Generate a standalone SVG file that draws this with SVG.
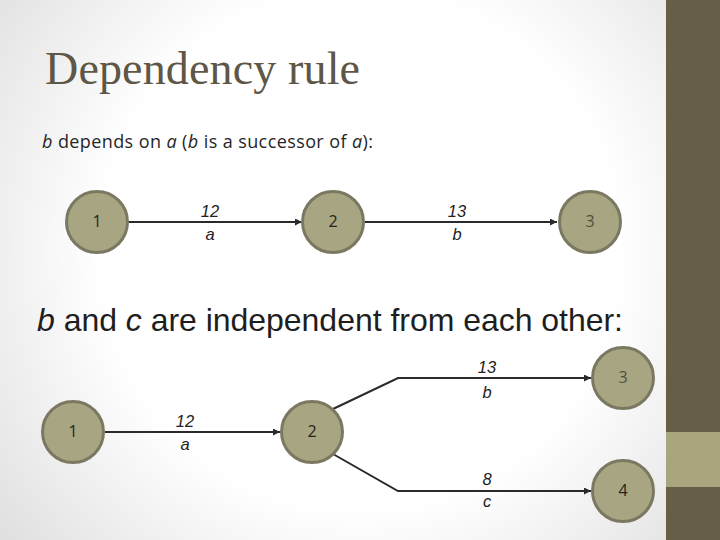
<svg xmlns="http://www.w3.org/2000/svg" width="720" height="540" viewBox="0 0 720 540">
<defs>
<radialGradient id="bg" cx="360" cy="250" r="470" gradientUnits="userSpaceOnUse">
<stop offset="0.55" stop-color="#ffffff"/>
<stop offset="1" stop-color="#dedede"/>
</radialGradient>
<marker id="arr" viewBox="0 0 10 10" refX="10" refY="5" markerWidth="3.5" markerHeight="3.5" markerUnits="strokeWidth" orient="auto">
<path d="M0,0 L10,5 L0,10 z" fill="#2a2a2a"/>
</marker>
<style>
.node circle{fill:#a8a582;stroke:#7b7862;stroke-width:3}
.node text{font-family:"Open Sans","DejaVu Sans",sans-serif;font-size:16px;fill:#24241a;text-anchor:middle}
.edge{stroke:#2a2a2a;stroke-width:2;fill:none;marker-end:url(#arr)}
.lbl{font-family:"Liberation Sans",Arial,sans-serif;font-style:italic;font-size:16.5px;fill:#222;text-anchor:middle}
</style>
</defs>
<rect width="720" height="540" fill="url(#bg)"/>
<rect x="666" y="0" width="54" height="540" fill="#675e48"/>
<rect x="666" y="432" width="54" height="55" fill="#a8a57f"/>

<text x="45" y="84" font-family="Liberation Serif,serif" font-size="46" fill="#5e5646" textLength="315">Dependency rule</text>
<text x="42" y="148" font-family="Open Sans,sans-serif" font-size="18" fill="#262626" textLength="331"><tspan font-style="italic">b</tspan> depends on <tspan font-style="italic">a</tspan> (<tspan font-style="italic">b</tspan> is a successor of <tspan font-style="italic">a</tspan>):</text>
<text x="37" y="331" font-family="Liberation Sans,Arial,sans-serif" font-size="32" fill="#1e1e1e" textLength="586"><tspan font-style="italic">b</tspan> and <tspan font-style="italic">c</tspan> are independent from each other:</text>

<g id="connectors">
<line class="edge" x1="128" y1="222" x2="302" y2="222"/>
<line class="edge" x1="365" y1="222" x2="557" y2="222"/>
<line class="edge" x1="105" y1="432" x2="280" y2="432"/>
<polyline class="edge" points="333,409 398,378 591,378"/>
<polyline class="edge" points="333,454 398,491 591,491"/>
<text class="lbl" x="210" y="217">12</text>
<text class="lbl" x="210" y="240">a</text>
<text class="lbl" x="457" y="217">13</text>
<text class="lbl" x="457" y="240">b</text>
<text class="lbl" x="185" y="427">12</text>
<text class="lbl" x="185" y="450">a</text>
<text class="lbl" x="487" y="373">13</text>
<text class="lbl" x="487" y="398">b</text>
<text class="lbl" x="487" y="485">8</text>
<text class="lbl" x="487" y="507">c</text>
</g>

<g id="t1" class="node"><circle cx="97" cy="222" r="30.5"/><text x="97" y="227">1</text></g>
<g id="t2" class="node"><circle cx="333" cy="222" r="30.5"/><text x="333" y="227">2</text></g>
<g id="t3" class="node"><circle cx="590" cy="222" r="30.5"/><text x="590" y="227" style="fill:#4f4f44">3</text></g>
<g id="b1" class="node"><circle cx="73" cy="432" r="30.5"/><text x="73" y="437">1</text></g>
<g id="b2" class="node"><circle cx="312" cy="432" r="30.5"/><text x="312" y="437">2</text></g>
<g id="b3" class="node"><circle cx="623" cy="378" r="30.5"/><text x="623" y="383" style="fill:#4f4f44">3</text></g>
<g id="b4" class="node"><circle cx="623" cy="491" r="30.5"/><text x="623" y="496">4</text></g>
</svg>
